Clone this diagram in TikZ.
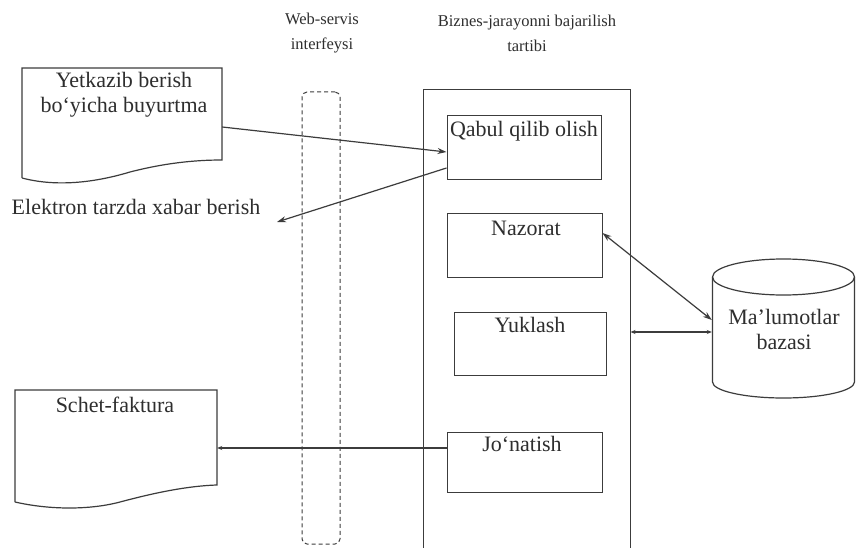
\documentclass[tikz,border=0pt]{standalone}
\usepackage{fontspec}
\setmainfont{Liberation Serif}
\usetikzlibrary{arrows.meta,calc}
\definecolor{ink}{HTML}{3C3C3C}
\definecolor{txtc}{HTML}{2E2E2E}
\begin{document}
\begin{tikzpicture}[x=1pt,y=-1pt,
  line/.style={draw=ink, line width=1.2pt},
  box/.style={draw=ink, line width=1pt, inner sep=0pt},
  hidden/.style={inner sep=0pt},
  txt/.style={text=txtc, inner sep=0pt, font=\fontsize{22}{25}\selectfont},
  title/.style={text=txtc, inner sep=0pt, align=center, font=\fontsize{16.5}{25}\selectfont},
  tip/.style={-{Stealth[length=9pt,width=6pt]}},
  tips/.style={{Stealth[length=9pt,width=6pt]}-{Stealth[length=9pt,width=6pt]}},
  smalltip/.style={-{Stealth[length=5pt,width=4pt]}},
  smalltips/.style={{Stealth[length=5pt,width=4pt]}-{Stealth[length=5pt,width=4pt]}}]
\useasboundingbox[fill=white] (0,0) rectangle (856,548);

% column headings
\node[title] (wst) at (322,33) {Web-servis\\interfeysi};
\node[title] (bpt) at (527,33) {Biznes-jarayonni bajarilish\\tartibi};

% web-service interface band
\node[box, dashed, dash pattern=on 4pt off 3pt, rounded corners=5pt,
      minimum width=38pt, minimum height=452pt] (ws) at (321,318) {};

% business-process container (runs past the lower edge)
\node[box, minimum width=207pt, minimum height=480pt] (bp) at (526.5,330) {};

% process steps
\node[box, minimum width=154pt, minimum height=64pt] (qab) at (524,148) {};
\node[box, minimum width=155pt, minimum height=64pt] (naz) at (524.5,245) {};
\node[box, minimum width=152pt, minimum height=63pt] (yuk) at (530,343.5) {};
\node[box, minimum width=155pt, minimum height=60pt] (jon) at (524.5,462) {};
\node[txt] (qabt) at (524,131) {Qabul qilib olish};
\node[txt] (nazt) at (526,228) {Nazorat};
\node[txt] (yukt) at (530,325) {Yuklash};
\node[txt] (jont) at (522,444) {Jo‘natish};

% order document
\node[hidden, minimum width=200pt, minimum height=118pt] (doc1) at (122,127) {};
\draw[line] (22,178) -- (22,68) -- (222,68) -- (222,160)
  .. controls (195,160) and (165,163) .. (130,172)
  .. controls (100,181) and (60,188) .. (22,178);
\node[txt, align=center] (doc1t) at (124,95)
  {Yetkazib berish\\bo‘yicha buyurtma};

% invoice document
\node[hidden, minimum width=202pt, minimum height=116pt] (sf) at (116,448) {};
\draw[line] (15,502) -- (15,390) -- (217,390) -- (217,485)
  .. controls (185,486) and (150,494) .. (120,502)
  .. controls (90,510) and (50,510) .. (15,502);
\node[txt] (sft) at (115,405) {Schet-faktura};

% database
\node[hidden, minimum width=143pt, minimum height=140pt] (db) at (783.5,332) {};
\draw[line] (783.5,277) ellipse [x radius=71, y radius=18];
\draw[line] (712.5,277) -- (712.5,382) arc[start angle=180, end angle=360, x radius=71, y radius=-16] -- (854.5,277);
\node[txt, align=center] (dbt) at (784,329) {Ma’lumotlar\\bazasi};

% notification label
\node[txt] (el) at (136,207) {Elektron tarzda xabar berish};
\coordinate (elend) at (277,222);

% connectors
\draw[line, tip] (doc1.east) -- ([yshift=-4pt]qab.west);
\draw[line, tip] ([yshift=-20pt]qab.west) -- (elend);
\draw[line, tips] ([yshift=12pt]naz.east) -- ([yshift=12pt]db.west);
\draw[line, smalltips] (db.west -| bp.east) -- (db.west);
\draw[line, smalltip] ([yshift=14pt]jon.west) -- (sf.east);
\end{tikzpicture}
\end{document}
